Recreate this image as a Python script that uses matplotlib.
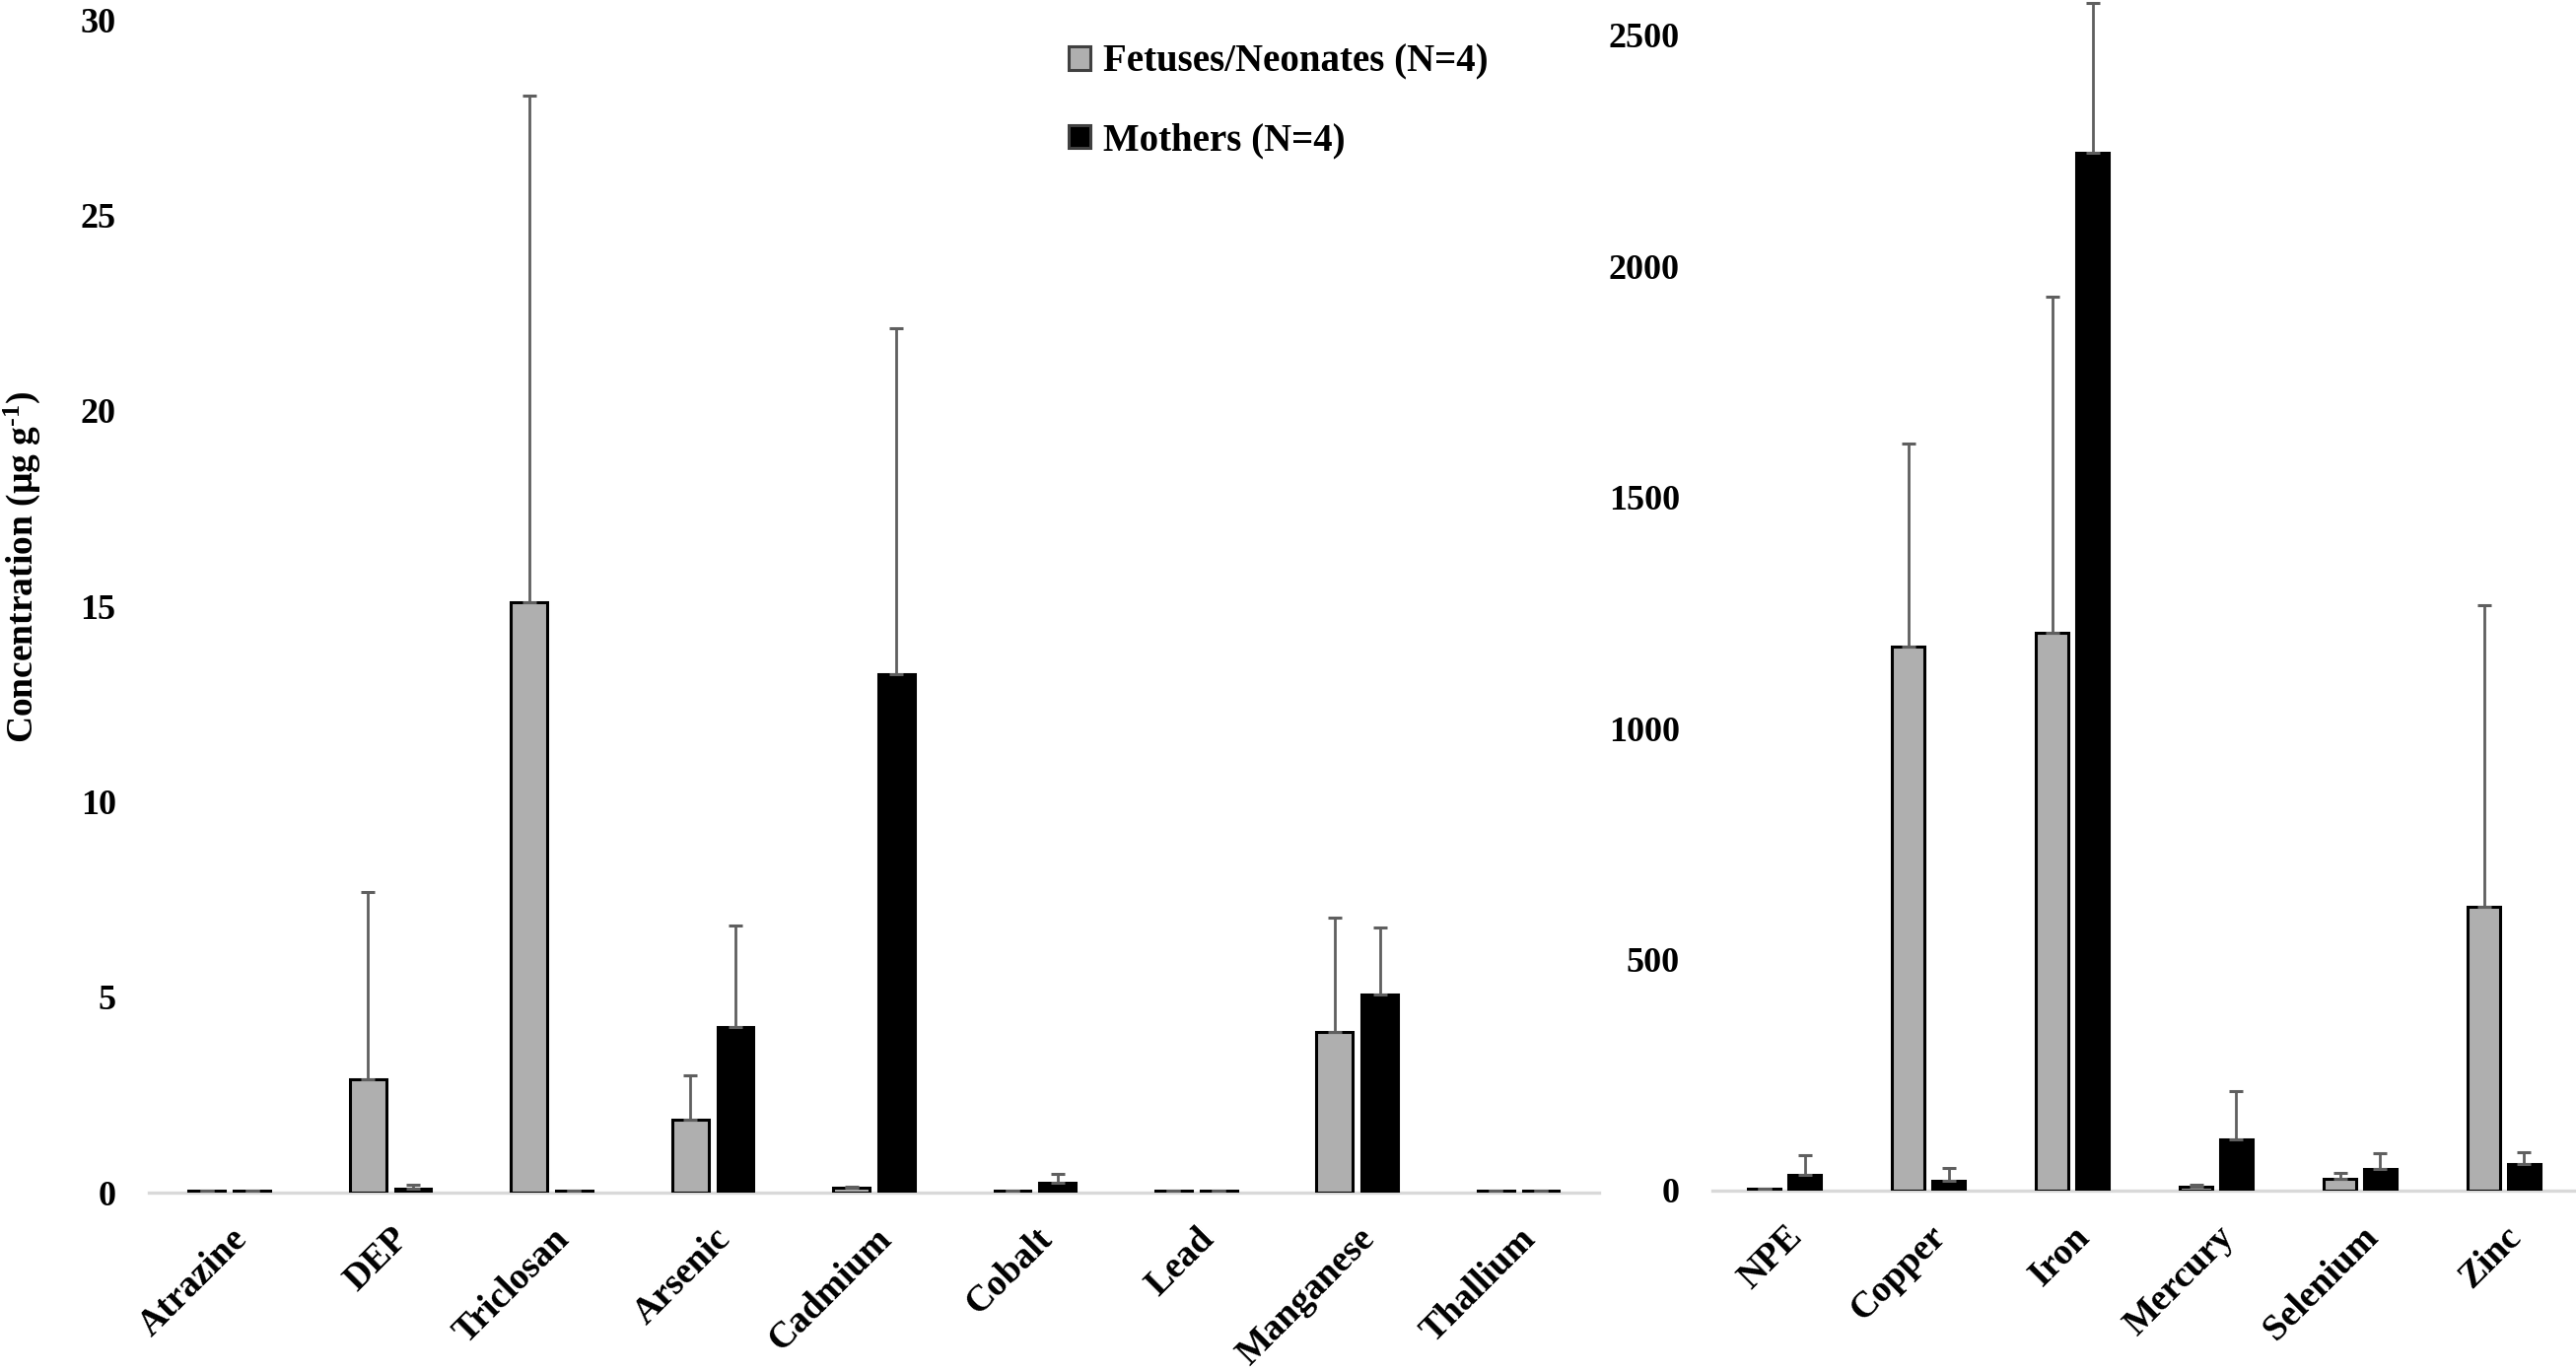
import numpy as np
import matplotlib
matplotlib.use("Agg")
import matplotlib.pyplot as plt

plt.rcParams['font.family'] = ['Liberation Serif', 'DejaVu Serif']
plt.rcParams['font.weight'] = 'bold'
plt.rcParams['mathtext.fontset'] = 'custom'
plt.rcParams['mathtext.rm'] = 'Liberation Serif:bold'
plt.rcParams['mathtext.bf'] = 'Liberation Serif:bold'
plt.rcParams['mathtext.default'] = 'bf'

# --- data, left panel (ug/g) ---
left_cats = ["Atrazine", "DEP", "Triclosan", "Arsenic", "Cadmium",
             "Cobalt", "Lead", "Manganese", "Thallium"]
left_fetus = [0.06, 2.9, 15.1, 1.86, 0.12, 0.05, 0.06, 4.1, 0.06]
left_fetus_err = [0.0, 4.8, 12.95, 1.14, 0.03, 0.0, 0.0, 2.93, 0.0]
left_mother = [0.04, 0.1, 0.04, 4.23, 13.27, 0.25, 0.04, 5.06, 0.04]
left_mother_err = [0.0, 0.1, 0.0, 2.6, 8.83, 0.24, 0.0, 1.73, 0.0]

# --- data, right panel (ug/g) ---
right_cats = ["NPE", "Copper", "Iron", "Mercury", "Selenium", "Zinc"]
right_fetus = [5, 1177, 1207, 8, 25, 614]
right_fetus_err = [0, 439, 728, 4, 14, 652]
right_mother = [34, 22, 2247, 111, 46, 58]
right_mother_err = [43, 28, 324, 105, 35, 26]

fetus_label = "Fetuses/Neonates (N=4)"
mother_label = "Mothers (N=4)"

gray = "#afafaf"
err_col = "#5f5f5f"
base_col = "#d9d9d9"
fs = 26

fig = plt.figure(figsize=(26.13, 13.92), dpi=100)
ax1 = fig.add_axes([0.0578, 0.1307, 0.5629, 0.8549])
ax2 = fig.add_axes([0.6648, 0.1322, 0.3352, 0.8534])

w = 0.225
off = 0.14


def draw_panel(ax, cats, fv, fe, mv, me, ymax, yticks):
    x = np.arange(len(cats))
    ekw = dict(ecolor=err_col, elinewidth=2, capsize=5, capthick=2.2, clip_on=False)
    bf = ax.bar(x - off, fv, w, color=gray, edgecolor="black", linewidth=2.2,
                yerr=[np.zeros(len(fv)), fe], error_kw=ekw, label=fetus_label)
    bm = ax.bar(x + off, mv, w, color="black", edgecolor="black", linewidth=2.2,
                yerr=[np.zeros(len(mv)), me], error_kw=ekw, label=mother_label)
    ax.set_xlim(-0.5, len(cats) - 0.5)
    ax.set_ylim(0, ymax)
    ax.set_yticks(yticks)
    ax.set_xticks(x)
    ax.set_xticklabels(cats, rotation=45, ha="right", va="top",
                       rotation_mode="anchor", fontsize=fs + 1, fontweight="bold")
    ax.tick_params(axis="x", length=0, pad=21)
    ax.tick_params(axis="y", length=0, pad=24, labelsize=fs)
    for s in ["top", "right", "left"]:
        ax.spines[s].set_visible(False)
    ax.spines["bottom"].set_color(base_col)
    ax.spines["bottom"].set_linewidth(2.4)
    ax.spines["bottom"].set_zorder(0)
    ax.patch.set_alpha(0)
    return bf, bm


bf, bm = draw_panel(ax1, left_cats, left_fetus, left_fetus_err,
                    left_mother, left_mother_err, 30, [0, 5, 10, 15, 20, 25, 30])
draw_panel(ax2, right_cats, right_fetus, right_fetus_err,
           right_mother, right_mother_err, 2534, [0, 500, 1000, 1500, 2000, 2500])

fig.text(0.0085, 0.587, r"Concentration (µg g$^{\text{-}1}$)", rotation=90,
         ha="center", va="center", fontsize=27, fontweight="bold")

leg = fig.legend(handles=[bf, bm], labels=[fetus_label, mother_label],
                 loc="upper left", bbox_to_anchor=(0.4015, 0.993),
                 frameon=False, fontsize=28, handlelength=0.55, handleheight=0.55,
                 handletextpad=0.35, labelspacing=1.1)
for h in leg.legend_handles:
    h.set_edgecolor("#404040")

fig.savefig("out.png", dpi=100)
